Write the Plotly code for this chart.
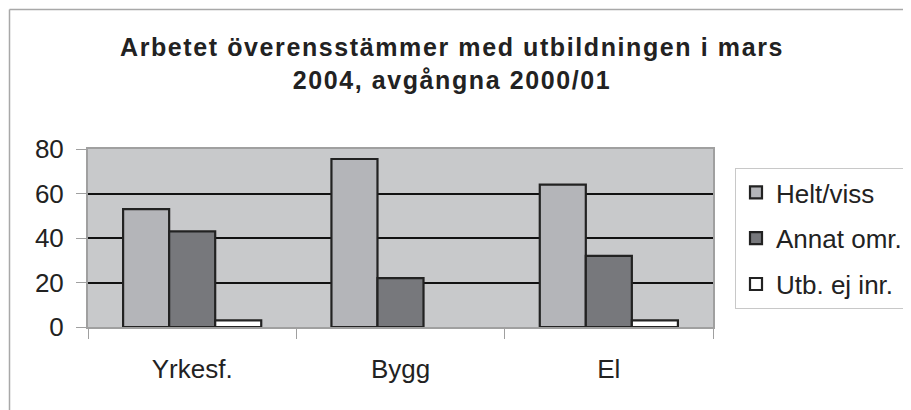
import plotly.graph_objects as go

categories = ["Yrkesf.", "Bygg", "El"]
series_names = ["Helt/viss", "Annat omr.", "Utb. ej inr."]
helt_viss = [53, 75.5, 64]
annat_omr = [43, 22, 32]
utb_ej_inr = [3, None, 3]
y_ticks = [0, 20, 40, 60, 80]

colors = ["#b4b5b9", "#77787c", "#ffffff"]
values = [helt_viss, annat_omr, utb_ej_inr]

OFF = 8  # page body margin offset
W, H = 911, 410
PL, PR, PT, PB = 88, 713, 149, 327  # plot area in screen pixels
L = PL - OFF
T = PT - OFF
PW, PH = PR - PL, PB - PT
R = W - L - PW
B = H - T - PH

def px_x(px):
    return (px - PL) / PW

def px_y(py):
    return (PB - py) / PH

fig = go.Figure()
for name, vals, col in zip(series_names, values, colors):
    fig.add_trace(go.Bar(
        x=categories, y=vals, name=name, legendgroup=name,
        marker=dict(color=col, line=dict(color="#222222", width=2.2)),
    ))

font_family = "Liberation Sans, Arial, sans-serif"
title_text = ('<span style="letter-spacing:1.6px"><b>Arbetet överensstämmer med utbildningen i mars'
              '<br>2004, avgångna 2000/01</b></span>')
fig.update_layout(
    width=W, height=H,
    margin=dict(l=L, r=R, t=T, b=B, autoexpand=False),
    paper_bgcolor="white",
    plot_bgcolor="#c8c9cb",
    barmode="group",
    bargap=0.337,
    bargroupgap=0,
    font=dict(family=font_family, color="#222222"),
    title=dict(
        text=title_text,
        x=(452 - OFF) / W, xref="container", xanchor="center",
        y=1 - 48 / H, yref="container", yanchor="top",
        font=dict(size=25, family=font_family, color="#222222"),
    ),
    legend=dict(
        x=px_x(735), y=px_y(168), xanchor="left", yanchor="top",
        bordercolor="#c8c8c8", borderwidth=1, bgcolor="white",
        font=dict(size=26, family=font_family, color="#222222"),
        tracegroupgap=9,
        itemwidth=30,
        entrywidth=170,
    ),
    xaxis=dict(
        showline=True, mirror=True, linecolor="#a0a0a0", linewidth=2,
        ticks="outside", ticklen=10, tickcolor="#a0a0a0", tickwidth=1,
        tickson="boundaries",
        tickfont=dict(size=26, family=font_family, color="#222222"),
        showgrid=False,
        ticklabelstandoff=18,
    ),
    yaxis=dict(
        range=[0, 80], tickvals=y_ticks,
        showline=True, mirror=True, linecolor="#a0a0a0", linewidth=2,
        ticks="outside", ticklen=10, tickcolor="#a0a0a0", tickwidth=1,
        showgrid=True, gridcolor="#111111", gridwidth=1.5,
        zeroline=False,
        tickfont=dict(size=26, family=font_family, color="#222222"),
        ticklabelstandoff=7,
    ),
    shapes=[
        dict(type="line", xref="paper", yref="paper",
             x0=px_x(9.5), x1=px_x(W + 20), y0=px_y(9.5), y1=px_y(9.5),
             line=dict(color="#a8a8a8", width=1.5)),
        dict(type="line", xref="paper", yref="paper",
             x0=px_x(9.5), x1=px_x(9.5), y0=px_y(9.5), y1=px_y(H + 20),
             line=dict(color="#a8a8a8", width=1.5)),
    ],
    showlegend=True,
)

fig.write_html("out.html")
